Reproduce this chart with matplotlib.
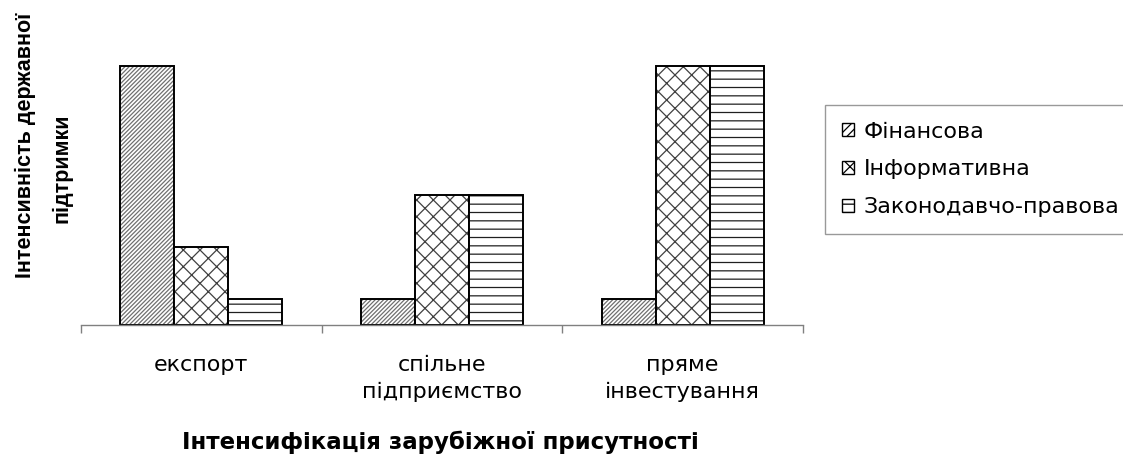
import matplotlib
matplotlib.use("Agg")
import matplotlib.pyplot as plt
from matplotlib.patches import Patch
import numpy as np

plt.rcParams['font.family'] = ['DejaVu Sans']
plt.rcParams['hatch.linewidth'] = 0.9

# --- DATA --- #
categories = ["експорт", "спільне\nпідприємство", "пряме\nінвестування"]
series_names = ["Фінансова", "Інформативна", "Законодавчо-правова"]
financial = [10, 1, 1]
informative = [3, 5, 10]
legal = [1, 5, 10]
hatches = ["////////", "xx", "--"]
hatch_colors = ["#707070", "#404040", "#202020"]
x_title = "Інтенсифікація зарубіжної присутності"
y_title = ["Інтенсивність державної", "підтримки"]

# --- PLOT --- #
W, H = 1123, 457
fig = plt.figure(figsize=(W / 100, H / 100), dpi=100)
ax = fig.add_axes([81 / W, (H - 325) / H, (803 - 81) / W, 311 / H])

x = np.arange(len(categories))
bar_w = 0.224
handles = []
for i, (vals, name, hatch, hc) in enumerate(zip([financial, informative, legal], series_names,
                                                hatches, hatch_colors)):
    pos = x + (i - 1) * bar_w
    # hatch layer in grey, then black outline on top
    ax.bar(pos, vals, width=bar_w, color="white", edgecolor=hc, linewidth=0, hatch=hatch)
    ax.bar(pos, vals, width=bar_w, fill=False, edgecolor="black", linewidth=1.4)
    handles.append(Patch(facecolor="white", edgecolor="black", linewidth=1.0,
                         hatch=hatch[:4] if i == 0 else hatch, label=name))

ax.set_xlim(-0.5, len(categories) - 0.5)
ax.set_ylim(0, 12)
for side in ["top", "right", "left"]:
    ax.spines[side].set_visible(False)
ax.spines["bottom"].set_color("#808080")
ax.spines["bottom"].set_linewidth(1.0)
ax.set_yticks([])

ax.set_xticks(x)
ax.set_xticklabels(categories, fontsize=16, linespacing=1.45, va="top")
ax.tick_params(axis="x", which="major", length=0, pad=21.5)
ax.set_xticks(np.arange(len(categories) + 1) - 0.5, minor=True)
ax.tick_params(axis="x", which="minor", length=5.5, color="#808080", width=1.0)

fig.text(440 / W, 1 - 442 / H, x_title, fontsize=16.5,
         fontweight="bold", ha="center", va="center")
fig.text(25 / W, 1 - 145 / H, y_title[0], family="Liberation Sans", fontsize=15.5,
         fontweight="bold", ha="center", va="center", rotation=90)
fig.text(62 / W, 1 - 168 / H, y_title[1], family="Liberation Sans", fontsize=15.5,
         fontweight="bold", ha="center", va="center", rotation=90)

leg = fig.legend(handles=handles, loc="upper left", bbox_to_anchor=(825 / W, 1 - 105 / H),
                 fontsize=16, frameon=True, fancybox=False, edgecolor="#808080",
                 handlelength=0.55, handleheight=0.55, handletextpad=0.45,
                 labelspacing=0.8, borderpad=0.75, borderaxespad=0)
leg.get_frame().set_linewidth(1.0)

fig.savefig("out.png", dpi=100)
